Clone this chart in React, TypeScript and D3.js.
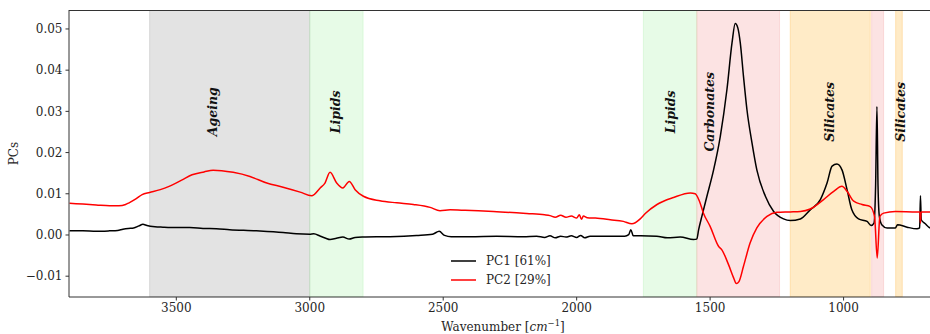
import React from 'react';
import * as d3 from 'd3';

// PC loadings, [wavenumber, value]
const pc1: [number, number][] = [
  [3900, 0.001], [3850, 0.001], [3800, 0.0009], [3750, 0.001], [3720, 0.0011], [3700, 0.0014],
  [3680, 0.0016], [3660, 0.0017], [3640, 0.0022], [3625, 0.0026], [3610, 0.0023], [3580, 0.002],
  [3550, 0.0019], [3500, 0.0018], [3450, 0.0018], [3400, 0.0016], [3350, 0.0015], [3300, 0.0013],
  [3200, 0.001], [3100, 0.0006], [3050, 0.0003], [3000, 0.0002], [2985, 0.0003], [2960, -0.0003],
  [2940, -0.0008], [2924, -0.0011], [2900, -0.0008], [2876, -0.0005], [2852, -0.001], [2830, -0.0006],
  [2800, -0.0005], [2700, -0.0004], [2600, -0.0001], [2540, 0.0002], [2515, 0.0009], [2495, -0.0001],
  [2470, -0.0004], [2400, -0.0004], [2300, -0.0003], [2200, -0.0004], [2150, -0.0003], [2120, -0.0006],
  [2100, -0.0002], [2080, -0.0007], [2060, -0.0003], [2040, -0.0005], [2020, -0.0002], [2000, -0.0006],
  [1985, -0.0001], [1970, -0.0007], [1950, -0.0003], [1900, -0.0003], [1820, -0.0003], [1805, 0.0001],
  [1797, 0.0013], [1788, -0.0002], [1760, -0.0002], [1700, -0.0003], [1660, -0.0007], [1612, -0.0005],
  [1562, -0.0011], [1550, -0.001], [1543, 0.0013], [1531, 0.0045], [1512, 0.0094], [1487, 0.0158],
  [1462, 0.0239], [1437, 0.0353], [1418, 0.0466], [1406, 0.0513], [1396, 0.0502], [1387, 0.0466],
  [1375, 0.0385], [1362, 0.0304], [1343, 0.0223], [1325, 0.0158], [1293, 0.0094], [1262, 0.0057],
  [1225, 0.0039], [1200, 0.0035], [1162, 0.0039], [1125, 0.0061], [1087, 0.0086], [1062, 0.0126],
  [1043, 0.0167], [1025, 0.0172], [1006, 0.0158], [987, 0.011], [969, 0.0061], [944, 0.0039],
  [912, 0.0033], [897, 0.0023], [886, 0.0029], [880, 0.012], [875, 0.0312], [871, 0.012],
  [866, 0.0045], [857, 0.0025], [837, 0.0017], [806, 0.0017], [798, 0.0025], [762, 0.0019],
  [725, 0.0015], [715, 0.0017], [712, 0.0095], [709, 0.0037], [695, 0.0028], [675, 0.0017], [650, 0.0015],
];

const pc2: [number, number][] = [
  [3900, 0.0077], [3850, 0.0075], [3800, 0.0073], [3750, 0.0071], [3715, 0.0071], [3690, 0.0074],
  [3677, 0.0078], [3650, 0.0088], [3628, 0.0098], [3600, 0.0103], [3560, 0.011], [3527, 0.0118],
  [3480, 0.0133], [3441, 0.0146], [3396, 0.0153], [3362, 0.0157], [3330, 0.0156], [3287, 0.0152],
  [3224, 0.0142], [3161, 0.0126], [3100, 0.0116], [3036, 0.0104], [2993, 0.0095], [2961, 0.0114],
  [2943, 0.0126], [2924, 0.0152], [2899, 0.0126], [2876, 0.0114], [2852, 0.013], [2830, 0.011],
  [2799, 0.0094], [2737, 0.0083], [2674, 0.0078], [2612, 0.0074], [2549, 0.0067], [2512, 0.0059],
  [2474, 0.0061], [2418, 0.006], [2312, 0.0057], [2187, 0.0052], [2120, 0.0049], [2100, 0.0047],
  [2080, 0.0043], [2060, 0.0048], [2040, 0.0043], [2020, 0.0046], [2000, 0.0041], [1990, 0.0049],
  [1982, 0.0038], [1975, 0.0046], [1960, 0.0042], [1930, 0.0041], [1874, 0.0037], [1825, 0.0033],
  [1793, 0.0027], [1762, 0.0039], [1743, 0.0052], [1699, 0.0074], [1637, 0.0091], [1574, 0.0102],
  [1556, 0.01], [1540, 0.0082], [1525, 0.0053], [1500, 0.0021], [1468, -0.0028], [1456, -0.0036],
  [1431, -0.0072], [1412, -0.0104], [1402, -0.0118], [1392, -0.0113], [1375, -0.0076], [1350, -0.0019],
  [1325, 0.0017], [1287, 0.0045], [1250, 0.0055], [1200, 0.0056], [1162, 0.0057], [1125, 0.0063],
  [1075, 0.0086], [1037, 0.0106], [1006, 0.0118], [987, 0.0106], [962, 0.0082], [931, 0.0074],
  [900, 0.0069], [884, 0.0045], [874, -0.0056], [864, 0.0045], [850, 0.0053], [806, 0.0057],
  [725, 0.0056], [714, 0.0056], [712, 0.0029], [710, 0.0056], [675, 0.0056], [650, 0.0055],
];

const bandRanges: [number, number][] = [[3600, 3000], [3000, 2800], [1750, 1550], [1550, 1240], [1200, 900], [895, 850], [805, 780]];
const bandColors = ['#808080', '#90ee90', '#90ee90', '#f08080', '#ffa500', '#f08080', '#ffa500'];
const bandLabels = ['Ageing', 'Lipids', 'Lipids', 'Carbonates', 'Silicates', '', 'Silicates'];
const labelAt = [3366, 2903, 1650, 1503, 1053, 0, 787];

const xTicks = [3500, 3000, 2500, 2000, 1500, 1000];
const yTicks = [-0.01, 0, 0.01, 0.02, 0.03, 0.04, 0.05];
const seriesNames = ['PC1 [61%]', 'PC2 [29%]'];
const seriesColors = ['#000000', '#ff0000'];

const W = 930;
const H = 334;
const m = { left: 69, right: 937, top: 10, bottom: 297 };
const font = '"DejaVu Serif", serif';

export default function App() {
  const x = d3.scaleLinear().domain([3902, 650]).range([m.left, m.right]);
  const y = d3.scaleLinear().domain([-0.01505, 0.0546]).range([m.bottom, m.top]);
  const line = d3.line<[number, number]>()
    .x(d => x(d[0]))
    .y(d => y(d[1]))
    .curve(d3.curveMonotoneX);

  return (
    <svg width={W} height={H} style={{ position: 'absolute', left: 0, top: 0, background: '#fff' }}
      fontFamily={font}>
      <defs>
        <clipPath id="plot">
          <rect x={m.left} y={m.top} width={m.right - m.left} height={m.bottom - m.top} />
        </clipPath>
      </defs>

      <g clipPath="url(#plot)">
        {bandRanges.map(([a, b], i) => (
          <rect key={i} x={x(a)} y={m.top} width={x(b) - x(a)} height={m.bottom - m.top}
            fill={bandColors[i]} fillOpacity={i === 0 ? 0.22 : 0.22}
            stroke={bandColors[i]} strokeOpacity={0.22} strokeWidth={1} />
        ))}
        {[pc1, pc2].map((s, i) => (
          <path key={i} d={line(s) ?? ''} fill="none" stroke={seriesColors[i]} strokeWidth={1.5}
            strokeLinejoin="round" />
        ))}
      </g>

      {bandLabels.map((t, i) => t && (
        <text key={i} transform={`translate(${x(labelAt[i])},${y(0.0299)}) rotate(-90)`}
          textAnchor="middle" dominantBaseline="central" fontSize={12.5}
          fontWeight="bold" fontStyle="italic" fill="#111">{t}</text>
      ))}

      {/* spines */}
      <g stroke="#333" strokeWidth={1} fill="none">
        <line x1={m.left} x2={m.left} y1={m.top} y2={m.bottom} />
        <line x1={m.left} x2={m.right} y1={m.top + 0.5} y2={m.top + 0.5} />
        <line x1={m.left} x2={m.right} y1={m.bottom} y2={m.bottom} />
        <line x1={m.right} x2={m.right} y1={m.top} y2={m.bottom} />
      </g>

      {/* x axis */}
      {xTicks.map(t => (
        <g key={t} transform={`translate(${x(t)},${m.bottom})`}>
          <line y2={3.5} stroke="#333" />
          <text y={15} textAnchor="middle" fontSize={12} fill="#262626">{t}</text>
        </g>
      ))}
      <text x={503} y={331} textAnchor="middle" fontSize={12} fill="#262626">
        Wavenumber [<tspan fontStyle="italic">cm</tspan>
        <tspan dy={-5} fontSize={8.5}>−1</tspan><tspan dy={5}>]</tspan>
      </text>

      {/* y axis */}
      {yTicks.map(t => (
        <g key={t} transform={`translate(${m.left},${y(t)})`}>
          <line x2={-3.5} stroke="#333" />
          <text x={-6.5} dy="0.35em" textAnchor="end" fontSize={12} fill="#262626">
            {t < 0 ? '−' + d3.format('.2f')(-t) : d3.format('.2f')(t)}
          </text>
        </g>
      ))}
      <text transform={`translate(18,${(m.top + m.bottom) / 2}) rotate(-90)`} textAnchor="middle"
        fontSize={12} fill="#262626">PCs</text>

      {/* legend */}
      {seriesNames.map((n, i) => (
        <g key={n} transform={`translate(451,${261 + i * 19})`}>
          <line x1={0} x2={25} stroke={seriesColors[i]} strokeWidth={1.5} />
          <text x={35} dy="0.35em" fontSize={12} fill="#262626">{n}</text>
        </g>
      ))}
    </svg>
  );
}
